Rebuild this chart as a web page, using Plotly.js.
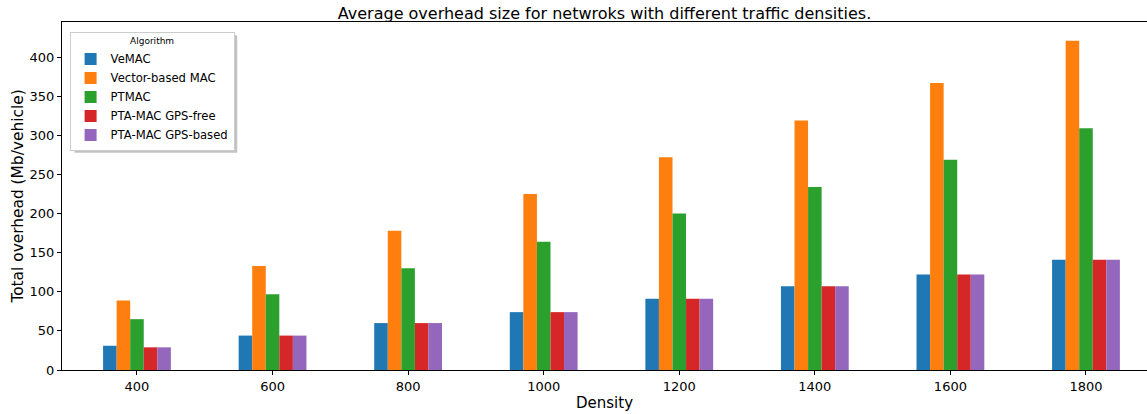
<!DOCTYPE html>
<html><head><meta charset="utf-8">
<script src="https://cdn.plot.ly/plotly-3.0.1.min.js"></script>
<style>body{margin:0;background:#fff}#c{width:1147px;height:414px}</style>
</head><body><div id="c"></div>
<script>
const densities = ["400","600","800","1000","1200","1400","1600","1800"];
const veMAC = [31, 44, 60, 74, 91, 107, 122, 141];
const vectorMAC = [89, 133, 178, 225, 272, 319, 367, 421];
const ptMAC = [65, 97, 130, 164, 200, 234, 269, 309];
const ptaGpsFree = [29, 44, 60, 74, 91, 107, 122, 141];
const ptaGpsBased = [29, 44, 60, 74, 91, 107, 122, 141];
const seriesNames = ["VeMAC","Vector-based MAC","PTMAC","PTA-MAC GPS-free","PTA-MAC GPS-based"];
const colors = ["#1f77b4","#ff7f0e","#2ca02c","#d62728","#9467bd"];
const all = [veMAC, vectorMAC, ptMAC, ptaGpsFree, ptaGpsBased];
const traces = all.map((v,i)=>({type:'bar', x:densities, y:v, name:seriesNames[i], marker:{color:colors[i], line:{width:0}}}));
const font = "DejaVu Sans, sans-serif";
Plotly.newPlot('c', traces, {
  width:1147, height:414,
  margin:{l:62, r:0, t:22, b:44},
  paper_bgcolor:'#fff', plot_bgcolor:'#fff',
  font:{family:font, color:'#262626'},
  title:{text:"Average overhead size for netwroks with different traffic densities.", font:{size:16, family:font, color:'#000'}, x:0.5, xref:'paper', xanchor:'center', y:0.982, yanchor:'top'},
  barmode:'group', bargap:0.5, bargroupgap:0,
  showlegend:true,
  legend:{x:0.007, y:0.972, xanchor:'left', yanchor:'top', bgcolor:'#fff', bordercolor:'#cccccc', borderwidth:1,
    font:{size:11.6, family:font, color:'#000'}, title:{text:'Algorithm', side:'top center', font:{size:9, family:font}}, tracegroupgap:0, itemwidth:30},
  shapes:[{type:'rect', xref:'paper', yref:'paper', x0:0.0115, x1:0.1615, y0:0.624, y1:0.962, fillcolor:'#9a9a9a', line:{width:0}, layer:'above', opacity:0.6}],
  xaxis:{type:'category', range:[-0.553, 7.45], showline:true, linecolor:'#000', linewidth:1, mirror:true, ticks:'outside', ticklen:4, tickcolor:'#000',
    tickfont:{size:13, family:font, color:'#000'}, showgrid:false, zeroline:false,
    title:{text:'Density', font:{size:15, family:font, color:'#000'}, standoff:4}},
  yaxis:{range:[0, 445], showline:true, linecolor:'#000', linewidth:1, ticks:'outside', ticklen:4, tickcolor:'#000', dtick:50,
    tickfont:{size:13, family:font, color:'#000'}, showgrid:false, zeroline:false,
    title:{text:'Total overhead (Mb/vehicle)', font:{size:15.4, family:font, color:'#000'}, standoff:2}}
}, {displayModeBar:false, staticPlot:true});
</script></body></html>
